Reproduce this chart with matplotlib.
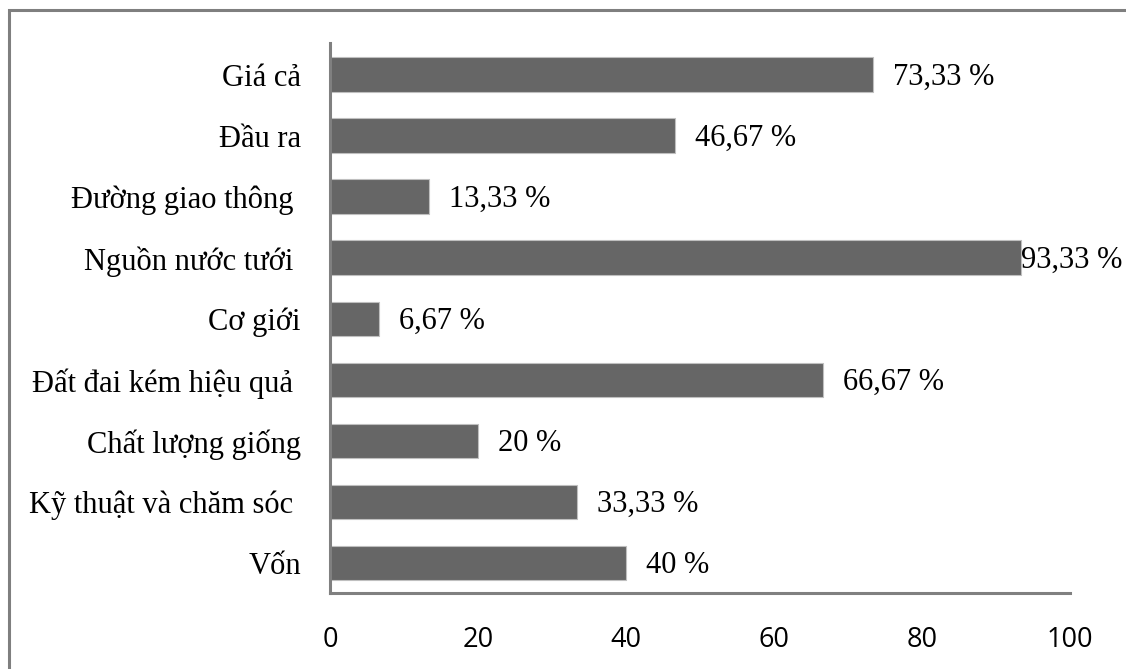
import matplotlib.pyplot as plt
from matplotlib.patches import Rectangle

# Data (bottom to top as drawn)
categories = ['Vốn', 'Kỹ thuật và chăm sóc ', 'Chất lượng giống', 'Đất đai kém hiệu quả ',
              'Cơ giới', 'Nguồn nước tưới ', 'Đường giao thông ', 'Đầu ra', 'Giá cả']
values = [40, 33.33, 20, 66.67, 6.67, 93.33, 13.33, 46.67, 73.33]
value_labels = ['40 %', '33,33 %', '20 %', '66,67 %', '6,67 %', '93,33 %', '13,33 %', '46,67 %', '73,33 %']
xticks = [0, 20, 40, 60, 80, 100]

fig = plt.figure(figsize=(11.26, 6.69), dpi=100)
ax = fig.add_axes([330 / 1126, 76 / 669, 740 / 1126, 550 / 669])

ypos = list(range(len(categories)))
ax.barh(ypos, values, height=0.57, color='#666666', edgecolor='#bfbfbf', linewidth=0.8, zorder=2)

# value labels to the right of each bar
for y, v, lab in zip(ypos, values, value_labels):
    pad = 0 if v > 90 else 14.5
    ax.annotate(lab, (v, y), xytext=(pad, -2), textcoords='offset points',
                ha='left', va='center', fontsize=22, family='Liberation Serif', color='black')

ax.set_xlim(0, 100)
ax.set_ylim(-0.49, 8.52)
ax.set_yticks(ypos)
ax.set_yticklabels(categories, family='Liberation Serif', fontsize=22)
ax.set_xticks(xticks)
ax.set_xticklabels([str(t) for t in xticks], family='Open Sans', fontsize=19.5)
ax.tick_params(axis='y', length=0, pad=21)
ax.tick_params(axis='x', length=0, pad=24)

for s in ['top', 'right']:
    ax.spines[s].set_visible(False)
for s in ['left', 'bottom']:
    ax.spines[s].set_color('#808080')
    ax.spines[s].set_linewidth(2.2)
    ax.spines[s].set_zorder(3)

# outer chart border
fig.patches.append(Rectangle((9 / 1126, -0.1), 1.2, (669 - 9.5) / 669 + 0.1,
                             transform=fig.transFigure, fill=False,
                             edgecolor='#7f7f7f', linewidth=2.2))

fig.savefig('out.png', dpi=100, facecolor='white')
